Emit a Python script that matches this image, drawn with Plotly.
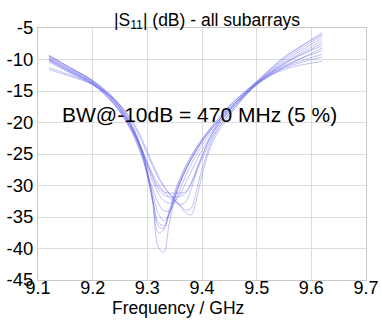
import plotly.graph_objects as go

freq_ghz = [9.12, 9.16, 9.20, 9.24, 9.27, 9.29, 9.30, 9.31, 9.32, 9.33, 9.34,
            9.35, 9.36, 9.37, 9.38, 9.39, 9.40, 9.42, 9.45, 9.50, 9.55, 9.62]

s11_a = [-9.8, -11.7, -13.6, -16.6, -20.5, -24.8, -28.2, -33.0, -39.8, -40.6, -36.0,
         -32.2, -29.6, -27.6, -25.9, -24.4, -23.0, -20.7, -17.8, -13.8, -10.6, -7.0]
s11_b = [-9.5, -11.4, -13.4, -16.4, -20.2, -24.6, -28.0, -32.5, -37.5, -37.0, -34.0,
         -31.0, -28.8, -26.9, -25.3, -23.9, -22.6, -20.4, -17.5, -13.6, -10.0, -6.2]
s11_c = [-9.3, -11.3, -13.3, -16.2, -20.0, -24.2, -27.6, -32.0, -36.4, -36.8, -34.4,
         -31.4, -29.0, -27.1, -25.5, -24.0, -22.7, -20.4, -17.4, -13.5, -9.8, -5.7]
s11_d = [-10.0, -11.9, -13.8, -17.0, -21.0, -25.3, -28.6, -32.4, -35.8, -36.4, -34.6,
         -31.8, -29.4, -27.4, -25.8, -24.3, -23.0, -20.8, -17.8, -13.7, -10.3, -6.6]
s11_e = [-9.6, -11.6, -13.5, -16.7, -20.6, -24.9, -28.0, -31.4, -34.4, -35.6, -34.5,
         -32.0, -29.6, -27.6, -25.9, -24.4, -23.0, -20.8, -17.9, -13.8, -10.8, -7.4]
s11_f = [-10.2, -12.1, -13.9, -17.2, -21.3, -25.4, -28.0, -30.6, -32.8, -34.0, -34.0,
         -32.6, -30.6, -28.5, -26.7, -25.1, -23.6, -21.2, -18.2, -14.0, -11.2, -8.2]
s11_g = [-11.3, -12.5, -13.9, -16.4, -19.6, -23.0, -25.0, -27.0, -28.8, -30.2, -31.3,
         -32.3, -33.3, -34.3, -34.7, -32.2, -28.4, -23.0, -19.0, -14.0, -11.6, -10.3]
s11_h = [-11.6, -12.7, -14.0, -16.3, -19.4, -22.6, -24.6, -26.6, -28.5, -30.0, -31.2,
         -32.2, -33.1, -33.9, -33.6, -30.8, -27.4, -22.5, -18.6, -13.9, -11.2, -9.2]
s11_i = [-9.9, -11.8, -13.7, -16.8, -20.6, -24.2, -26.3, -28.2, -29.8, -31.0, -31.9,
         -32.6, -33.0, -32.6, -30.6, -27.8, -25.4, -21.8, -18.2, -13.8, -11.0, -8.6]
s11_j = [-10.4, -12.2, -14.0, -17.2, -21.0, -24.6, -26.6, -28.6, -30.2, -31.0, -31.2,
         -31.2, -31.2, -31.0, -29.8, -27.8, -25.8, -22.2, -18.6, -14.0, -11.4, -9.6]
s11_k = [-10.1, -12.0, -13.8, -17.0, -20.8, -24.4, -26.6, -28.8, -30.6, -31.5, -31.8,
         -31.8, -31.7, -31.2, -29.6, -27.4, -25.2, -21.5, -17.4, -13.5, -9.6, -6.0]
s11_l = [-9.4, -11.4, -13.4, -16.5, -20.4, -24.4, -27.0, -29.4, -31.2, -32.4, -32.8,
         -32.5, -31.4, -29.6, -27.8, -26.0, -24.4, -21.6, -18.0, -13.7, -10.6, -7.8]

all_series = [s11_a, s11_b, s11_c, s11_d, s11_e, s11_f,
              s11_g, s11_h, s11_i, s11_j, s11_k, s11_l]

x_ticks = [9.1, 9.2, 9.3, 9.4, 9.5, 9.6, 9.7]
x_tick_labels = ["9.1", "9.2", "9.3", "9.4", "9.5", "9.6", "9.7"]
y_ticks = [-45, -40, -35, -30, -25, -20, -15, -10, -5]
y_tick_labels = ["-45", "-40", "-35", "-30", "-25", "-20", "-15", "-10", "-5"]

fig = go.Figure()
for ys in all_series:
    fig.add_trace(go.Scatter(
        x=freq_ghz, y=ys, mode="lines",
        line=dict(color="rgba(80,80,230,0.45)", width=0.8, shape="spline", smoothing=1.0),
        showlegend=False, hoverinfo="skip"))

font_family = "Liberation Sans, Arial, sans-serif"

fig.add_annotation(
    x=9.396, y=-18.8, xref="x", yref="y",
    text="BW@-10dB = 470 MHz (5 %)", showarrow=False,
    font=dict(family=font_family, size=21, color="black"))

# x-axis title placed as paper annotation
fig.add_annotation(
    x=0.427, y=-0.113, xref="paper", yref="paper",
    xanchor="center", yanchor="middle",
    text="Frequency / GHz", showarrow=False,
    font=dict(family=font_family, size=17.5, color="black"))

fig.update_layout(
    width=382, height=322,
    margin=dict(l=38, r=16, t=28, b=42, autoexpand=False),
    paper_bgcolor="white", plot_bgcolor="white",
    font=dict(family=font_family, size=18, color="black"),
    title=dict(text="|S<sub>11</sub>| (dB) - all subarrays",
               x=0.542, xanchor="center", y=0.92, yanchor="bottom",
               font=dict(family=font_family, size=17.5, color="black")),
)
fig.update_xaxes(
    range=[9.1, 9.7], tickvals=x_ticks, ticktext=x_tick_labels,
    showgrid=True, gridcolor="#dcdcdc", gridwidth=1,
    showline=True, linecolor="#c8c8c8", linewidth=1, mirror=True,
    zeroline=False, ticks="", ticklen=0, automargin=False,
    ticklabelstandoff=-9,
    tickfont=dict(family=font_family, size=18, color="black"))
fig.update_yaxes(
    range=[-45, -5], tickvals=y_ticks, ticktext=y_tick_labels,
    showgrid=True, gridcolor="#dcdcdc", gridwidth=1,
    showline=True, linecolor="#c8c8c8", linewidth=1, mirror=True,
    zeroline=False, ticks="", ticklen=0, automargin=False,
    tickfont=dict(family=font_family, size=18.5, color="black"))

fig.write_html("out.html")
